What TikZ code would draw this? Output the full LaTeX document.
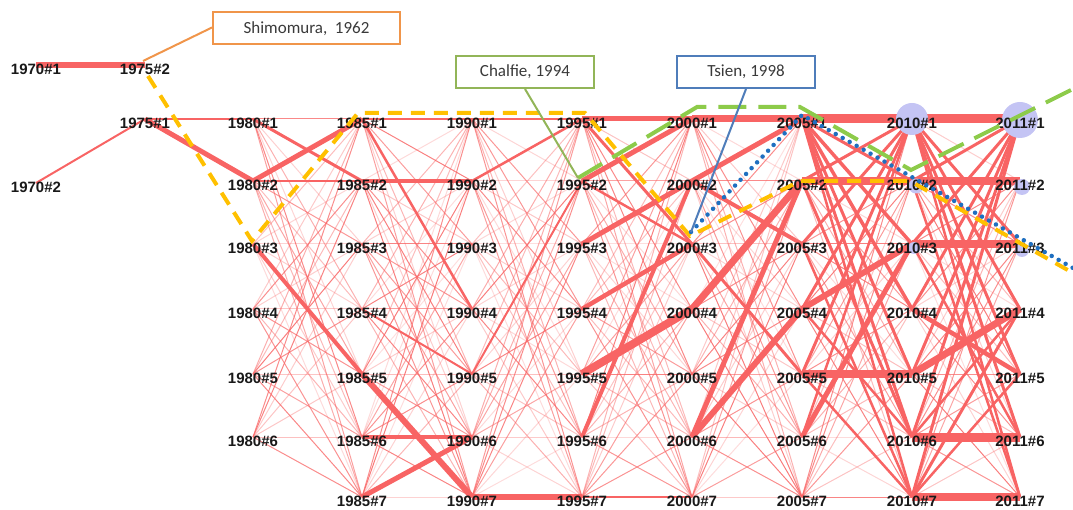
\documentclass[tikz,border=0pt]{standalone}
\usepackage{fontspec}
\setmainfont{Liberation Sans}
\newfontfamily\callfont{Carlito}
\definecolor{edgered}{HTML}{F86464}
\definecolor{goldy}{HTML}{FFC000}
\definecolor{greenl}{HTML}{8DCB4A}
\definecolor{bluedot}{HTML}{1F6FC0}
\definecolor{lav}{HTML}{C4C4F4}
\definecolor{orbox}{HTML}{F0954A}
\definecolor{grbox}{HTML}{92B558}
\definecolor{blbox}{HTML}{4F7DBA}
\definecolor{txtgray}{HTML}{3A3A3A}
\tikzset{
  lab/.style={font=\fontsize{15}{17}\selectfont\bfseries, inner sep=0pt, text=black!90, yshift=-4pt},
  base/.style={draw=edgered, line width=1pt},
  hedge/.style={draw=edgered},
  ydash/.style={draw=goldy, line width=4pt, dash pattern=on 14pt off 9pt},
  gdash/.style={draw=greenl, line width=4pt, dash pattern=on 28pt off 12pt},
  bdot/.style={draw=bluedot, line width=4.5pt, line cap=round, dash pattern=on 0pt off 8pt},
  callbox/.style={line width=2pt, fill=white, inner sep=0pt, minimum height=32pt,
     font=\callfont\fontsize{17}{20}\selectfont, text=txtgray},
  hub/.style={circle, fill=lav, inner sep=0pt}
}
\begin{document}
\begin{tikzpicture}[x=1pt,y=-1pt]
\useasboundingbox (0,0) rectangle (1073,510);
% node positions
\coordinate (p1970-1) at (36,65);
\coordinate (p1970-2) at (36,183);
\coordinate (p1975-2) at (145,65);
\coordinate (p1975-1) at (145,119);
\foreach \c/\x/\n in {1980/253/6,1985/362/7,1990/472/7,1995/582/7,2000/692/7,2005/802/7,2010/912/7,2011/1020/7}{
  \foreach \r/\y in {1/119,2/181,3/244,4/309,5/374,6/437,7/497}{
    \ifnum\r>\n\relax\else\coordinate (p\c-\r) at (\x,\y);\fi
  }
}
% light mesh between consecutive columns
\pgfmathsetseed{7}
\foreach \a/\na/\b/\nb in {1980/6/1985/7,1985/7/1990/7,1990/7/1995/7,1995/7/2000/7,2000/7/2005/7,2005/7/2010/7,2010/7/2011/7}{
  \foreach \i in {1,...,\na}{
    \foreach \j in {1,...,\nb}{
      \pgfmathsetmacro\op{0.2+0.65*rnd}
      \draw[base, draw opacity=\op] (p\a-\i) -- (p\b-\j);
    }
  }
}
% heavy edges
\foreach \a/\b/\w in {
 1970-1/1975-2/6, 1970-2/1975-1/2, 1975-1/1980-1/1.2, 1975-1/1980-2/5,
 1980-2/1985-1/5, 1980-1/1985-2/3, 1980-3/1985-5/4, 1980-2/1985-2/1.5,
 1985-1/1990-1/2.5, 1985-2/1990-2/4.5, 1985-1/1990-4/2.5, 1985-5/1990-7/6,
 1985-7/1990-6/5, 1985-6/1990-6/3.5, 1985-4/1990-5/2,
 1990-1/1995-1/2, 1990-7/1995-7/6, 1990-2/1995-1/2.5, 1990-5/1995-2/2,
 1995-1/2000-1/5, 1995-2/2000-1/5, 1995-3/2000-2/5, 1995-1/2000-3/3,
 1995-4/2000-3/4.5, 1995-5/2000-4/8, 1995-6/2000-2/4, 1995-2/2000-3/2.5, 1995-7/2000-7/2.5,
 2000-1/2005-1/7, 2000-2/2005-1/5, 2000-4/2005-2/7, 2000-6/2005-2/5, 2000-6/2005-4/6,
 2000-2/2005-3/4, 2000-3/2005-5/3,
 2005-1/2010-1/9, 2005-2/2010-2/8, 2005-5/2010-5/8, 2005-4/2010-3/6, 2005-6/2010-3/5,
 2005-1/2010-2/3, 2005-1/2010-3/3.5, 2005-1/2010-4/3.5, 2005-1/2010-5/3, 2005-1/2010-6/3, 2005-1/2010-7/2.5,
 2010-1/2005-2/3, 2010-1/2005-3/3, 2010-1/2005-4/3, 2010-1/2005-5/3, 2010-1/2005-6/2.5,
 2005-2/2010-6/3, 2005-3/2010-7/2.5, 2005-5/2010-7/2.5, 2005-4/2010-6/2.5,
 2010-1/2011-1/9, 2010-2/2011-2/8, 2010-3/2011-3/8, 2010-6/2011-6/9, 2010-7/2011-7/8,
 2010-5/2011-4/7, 2010-4/2011-5/4.5,
 2010-1/2011-3/3, 2010-1/2011-4/3, 2010-1/2011-5/3, 2010-1/2011-6/3, 2010-1/2011-7/2.5,
 2011-1/2010-2/3, 2011-1/2010-3/3, 2011-1/2010-4/3, 2011-1/2010-5/3, 2011-1/2010-6/3, 2011-1/2010-7/3,
 2010-7/2011-4/3, 2010-7/2011-5/2.5, 2010-6/2011-4/2.5, 2010-2/2011-7/2.5, 2010-3/2011-6/2.5}{
  \draw[hedge, line width=\w pt] (p\a) -- (p\b);
}
% hub circles
\node[hub, minimum size=32pt] (h2010-1) at (p2010-1) {};
\node[hub, minimum size=36pt] (h2011-1) at (1020,120) {};
\node[hub, minimum size=15pt] (h2010-2) at (916,186) {};
\node[hub, minimum size=16pt] (h2011-2) at (1022,187) {};
\node[hub, minimum size=12pt] (h2010-3) at (914,248) {};
\node[hub, minimum size=14pt] (h2011-3) at (1022,250) {};
% labels
\node[lab] (n1970-1) at (p1970-1) {1970\#1};
\node[lab] (n1970-2) at (p1970-2) {1970\#2};
\node[lab] (n1975-1) at (p1975-1) {1975\#1};
\node[lab] (n1975-2) at (p1975-2) {1975\#2};
\foreach \c/\n in {1980/6,1985/7,1990/7,1995/7,2000/7,2005/7,2010/7,2011/7}{
  \foreach \r in {1,...,\n}{
    \node[lab] (n\c-\r) at (p\c-\r) {\c\#\r};
  }
}
% highlighted paths
\coordinate (y0) at (148,76);
\coordinate (y1) at (252,241);
\coordinate (y2) at (358,113);
\coordinate (y3) at (585,113);
\coordinate (y4) at (690,236);
\coordinate (y5) at (800,181);
\coordinate (y6) at (910,181);
\coordinate (y7) at (1073,273);
\draw[ydash] (y0) -- (y1) -- (y2) -- (y3) -- (y4) -- (y5) -- (y6) -- (y7);
\coordinate (g0) at (578,178);
\coordinate (g1) at (697,107);
\coordinate (g2) at (800,107);
\coordinate (g3) at (911,170);
\coordinate (g4) at (1073,89);
\draw[gdash] (g0) -- (g1) -- (g2) -- (g3) -- (g4);
\coordinate (b0) at (691,232);
\coordinate (b1) at (802,115);
\coordinate (b2) at (1073,268);
\draw[bdot] (b0) -- (b1) -- (b2);
% callouts
\node[callbox, draw=orbox, minimum width=187pt] (shim) at (306.5,28.5) {Shimomura,\ \ 1962};
\node[callbox, draw=grbox, minimum width=138pt] (chal) at (525,72) {Chalfie, 1994};
\node[callbox, draw=blbox, minimum width=138pt] (tsien) at (746,72) {Tsien, 1998};
\coordinate (s1) at (143,61);
\draw[orbox, line width=2pt] (shim.west) ++(0,-1) -- (s1);
\draw[grbox, line width=2pt] (chal.south) -- (g0);
\draw[blbox, line width=2pt] (tsien.south) -- (b0);
\end{tikzpicture}
\end{document}
